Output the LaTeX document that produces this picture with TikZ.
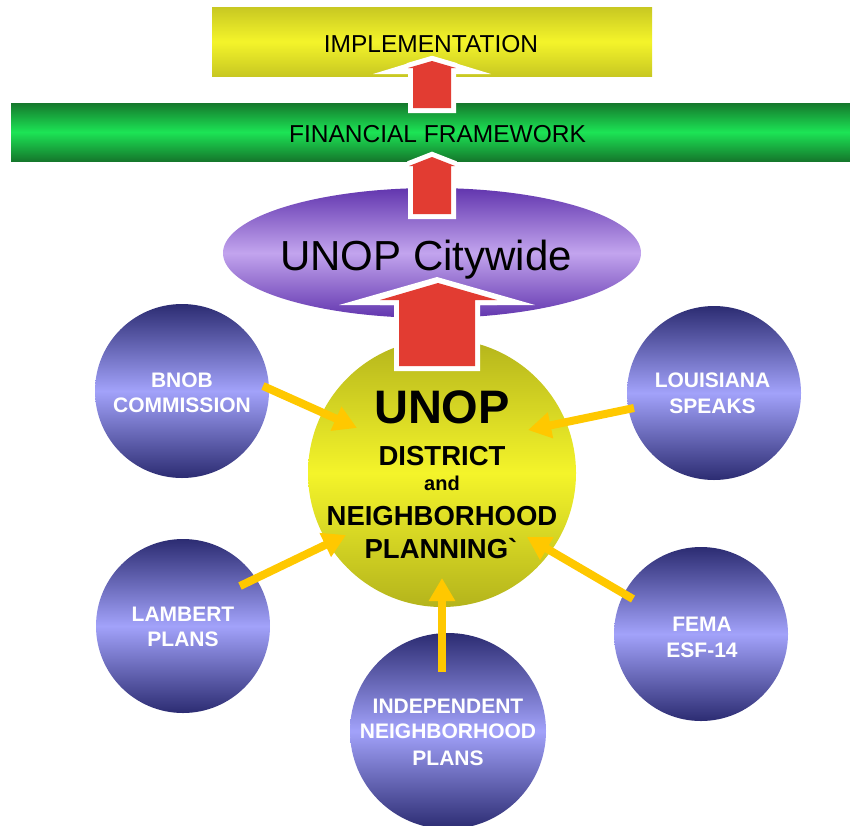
\documentclass[tikz,border=0pt]{standalone}
\usepackage{fontspec}
\setmainfont{Liberation Sans}
\newfontfamily\gravefont{Liberation Sans}[Ligatures=TeXOff]
\usetikzlibrary{shapes.geometric,arrows.meta}
\definecolor{implhi}{HTML}{F4F42A}
\definecolor{impllo}{HTML}{C8C822}
\definecolor{finhi}{HTML}{1CE455}
\definecolor{finlo}{HTML}{15782C}
\definecolor{ellhi}{HTML}{C2A4EE}
\definecolor{elllo}{HTML}{6236AE}
\definecolor{cenhi}{HTML}{F4F42A}
\definecolor{cenlo}{HTML}{B4B41C}
\definecolor{sathi}{HTML}{A2A2FA}
\definecolor{satlo}{HTML}{2C2C72}
\definecolor{redc}{HTML}{E23C32}
\definecolor{yelc}{HTML}{FFC800}
\begin{document}
\begin{tikzpicture}[x=1pt,y=-1pt,
  sat/.style={circle, inner sep=0pt, minimum size=174pt, draw=none,
    top color=satlo, bottom color=satlo, middle color=sathi},
  sattext/.style={anchor=base, text=white, inner sep=0pt,
    font=\fontsize{21}{25}\selectfont\bfseries},
  centext/.style={anchor=base, text=black, inner sep=0pt},
  bartext/.style={anchor=base, text=black, inner sep=0pt,
    font=\fontsize{24.5}{29}\selectfont},
  yarrow/.style={draw=yelc, line width=8pt,
    -{Triangle[length=23pt,width=25pt]}},
  blockarrow/.style={fill=redc, preaction={draw=white, line width=10pt, line join=miter, miter limit=2}},
  whitehead/.style={fill=white, draw=none}
]
\useasboundingbox (0,0) rectangle (850,825);

% bars
\node[rectangle, inner sep=0pt, minimum width=440pt, minimum height=69pt,
  top color=impllo, bottom color=impllo, middle color=implhi] (impl) at (432,41.5) {};
\node[bartext] (implt) at (431,52) {IMPLEMENTATION};
\node[rectangle, inner sep=0pt, minimum width=839pt, minimum height=58pt,
  top color=finlo, bottom color=finlo, middle color=finhi] (fin) at (430.5,132) {};
\node[bartext] (fint) at (437.5,142) {FINANCIAL FRAMEWORK};

% ellipse
\node[ellipse, inner sep=0pt, minimum width=418pt, minimum height=130pt,
  top color=elllo, bottom color=elllo, middle color=ellhi] (city) at (432,253) {};
\node[centext, font=\fontsize{42}{48}\selectfont] (cityt) at (426,270) {UNOP Citywide};

% satellites
\node[sat] (bnob) at (182,391) {};
\node[sat] (louis) at (714,393) {};
\node[sat] (lamb) at (183,626) {};
\node[sat] (fema) at (701,634) {};
\node[sat, minimum size=196pt] (indep) at (448,731) {};

% centre circle
\node[circle, inner sep=0pt, minimum size=268pt,
  top color=cenlo, bottom color=cenlo, middle color=cenhi] (centre) at (442,473) {};

% block arrows
\path[whitehead] (373,74) -- (432,56) -- (491,74) -- cycle;
\path[blockarrow] (413,108) -- (413,68) -- (408,68) -- (432,61) -- (456,68) -- (451,68) -- (451,108) -- cycle;
\path[blockarrow] (413,214) -- (413,166) -- (409,166) -- (432,157) -- (455,166) -- (451,166) -- (451,214) -- cycle;
\path[whitehead] (339,305) -- (437,277) -- (535,305) -- cycle;
\path[blockarrow] (399,366) -- (399,300) -- (380,300) -- (438,283) -- (497,300) -- (475,300) -- (475,366) -- cycle;

% centre text
\node[centext, font=\fontsize{47}{52}\selectfont\bfseries] (c1) at (442,423) {UNOP};
\node[centext, font=\fontsize{27.5}{32}\selectfont\bfseries] (c2) at (442,465) {DISTRICT};
\node[centext, font=\fontsize{20}{24}\selectfont\bfseries] (c3) at (442,490) {and};
\node[centext, font=\fontsize{27.5}{32}\selectfont\bfseries] (c4) at (442,525) {NEIGHBORHOOD};
\node[centext, font=\fontsize{27.5}{32}\selectfont\bfseries] (c5) at (441,558) {PLANNING{\gravefont\symbol{96}}};

% satellite text
\node[sattext] (b1) at (182,387) {BNOB};
\node[sattext] (b2) at (182,412) {COMMISSION};
\node[sattext] (l1) at (712.5,387) {LOUISIANA};
\node[sattext] (l2) at (712.5,413) {SPEAKS};
\node[sattext] (m1) at (183,621) {LAMBERT};
\node[sattext] (m2) at (183,646) {PLANS};
\node[sattext] (f1) at (702,631) {FEMA};
\node[sattext] (f2) at (702,657) {ESF-14};
\node[sattext] (i1) at (448,713) {INDEPENDENT};
\node[sattext] (i2) at (448,738) {NEIGHBORHOOD};
\node[sattext] (i3) at (448,765) {PLANS};

% yellow arrows
\coordinate (bs) at (263,386);
\coordinate (be) at (357,428);
\coordinate (ls) at (634,408);
\coordinate (le) at (528,430);
\coordinate (ms) at (240,586);
\coordinate (me) at (346,535);
\coordinate (fs) at (633,599);
\coordinate (fe) at (527,537);
\coordinate (is) at (442,672);
\coordinate (ie) at (442,578);
\draw[yarrow] (bs) -- (be);
\draw[yarrow] (ls) -- (le);
\draw[yarrow] (ms) -- (me);
\draw[yarrow] (fs) -- (fe);
\draw[yarrow] (is) -- (ie);
\end{tikzpicture}
\end{document}
